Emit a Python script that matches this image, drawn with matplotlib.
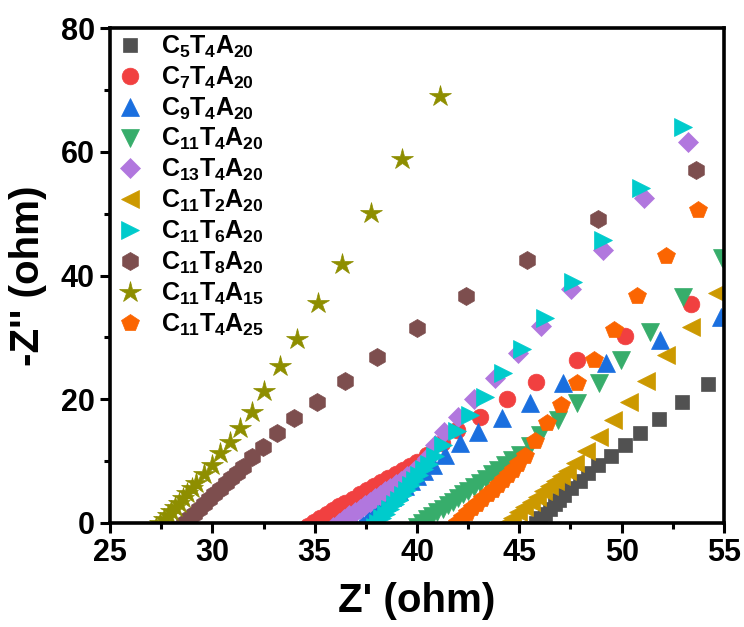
import numpy as np
import matplotlib
matplotlib.use("Agg")
import matplotlib.pyplot as plt
from matplotlib.ticker import MultipleLocator

plt.rcParams['font.family'] = ['Liberation Sans', 'DejaVu Sans']
plt.rcParams['font.weight'] = 'bold'
plt.rcParams['mathtext.fontset'] = 'custom'
plt.rcParams['mathtext.rm'] = 'Liberation Sans:bold'
plt.rcParams['mathtext.it'] = 'Liberation Sans:bold'
plt.rcParams['mathtext.bf'] = 'Liberation Sans:bold'

# Nyquist data read from the picture : Z' (ohm), -Z'' (ohm)
# (first points sit a bit below zero, they are cut by the axis like in the original)
c5t4a20_x = [45.5, 45.8, 46.03, 46.26, 46.49, 46.72, 46.95, 47.18, 47.55, 47.96, 48.37, 48.85, 49.46, 50.16, 50.89, 51.83, 52.93, 54.21]
c5t4a20_y = [-0.9, 0.0, 0.75, 1.5, 2.25, 3.0, 3.75, 4.5, 5.6, 6.85, 8.0, 9.4, 10.8, 12.6, 14.5, 16.8, 19.5, 22.5]

c7t4a20_x = [34.33, 34.65, 34.97, 35.28, 35.6, 35.9, 36.2, 36.5, 36.85, 37.2, 37.55, 37.9, 38.25, 38.6, 38.95, 39.3, 39.65, 40.0,
             40.5, 41.2, 41.94, 43.08, 44.38, 45.81, 47.8, 50.16, 53.41]
c7t4a20_y = [-1.2, -0.55, 0.1, 0.8, 1.45, 2.1, 2.7, 3.25, 3.9, 4.6, 5.25, 5.9, 6.55, 7.25, 7.9, 8.55, 9.2, 9.85,
             11.0, 12.9, 15.0, 17.1, 20.0, 22.8, 26.4, 30.2, 35.4]

c9t4a20_x = [37.0, 37.3, 37.6, 37.9, 38.2, 38.5, 38.8, 39.1, 39.4, 39.7, 40.0, 40.35, 40.78, 41.37, 42.1, 42.96, 44.14, 45.52,
             47.15, 49.23, 51.87, 54.85]
c9t4a20_y = [-0.8, 0.0, 0.85, 1.7, 2.55, 3.4, 4.25, 5.1, 5.95, 6.8, 7.6, 8.4, 9.4, 11.0, 12.9, 14.75, 16.9, 19.4,
             22.6, 25.8, 29.6, 33.3]

c11t4a20_x = [40.0, 40.25, 40.5, 40.75, 41.0, 41.25, 41.5, 41.75, 42.0, 42.25, 42.5, 42.78, 43.06, 43.35, 43.65, 43.97, 44.3,
              44.65, 45.03, 45.5, 46.01, 46.9, 47.83, 48.89, 49.99, 51.38, 53.0, 54.9]
c11t4a20_y = [-0.6, 0.0, 0.57, 1.15, 1.72, 2.3, 2.87, 3.45, 4.0, 4.6, 5.2, 5.85, 6.5, 7.15, 7.85, 8.55, 9.35,
              10.15, 11.0, 12.5, 14.2, 16.6, 19.4, 22.6, 26.3, 30.9, 36.6, 42.8]

c13t4a20_x = [35.9, 36.2, 36.45, 36.7, 36.95, 37.2, 37.45, 37.7, 37.95, 38.2, 38.45, 38.7, 38.95, 39.2, 39.5, 39.85, 40.2,
              40.5, 40.88, 41.3, 42.02, 42.8, 43.81, 44.93, 46.04, 47.51, 49.07, 51.09, 53.25]
c13t4a20_y = [-0.7, 0.0, 0.6, 1.2, 1.75, 2.3, 2.85, 3.4, 3.95, 4.5, 5.1, 5.65, 6.25, 6.85, 7.55, 8.4, 9.35,
              10.5, 12.6, 14.75, 17.15, 20.0, 23.4, 27.4, 31.8, 37.8, 44.2, 52.5, 61.6]

c11t2a20_x = [44.0, 44.35, 44.65, 44.95, 45.25, 45.55, 45.85, 46.15, 46.45, 46.75, 47.05, 47.35, 47.72, 48.25, 48.88, 49.57,
              50.35, 51.21, 52.16, 53.37, 54.64]
c11t2a20_y = [-1.0, 0.0, 0.85, 1.7, 2.55, 3.4, 4.25, 5.1, 5.95, 6.8, 7.6, 8.45, 9.7, 11.6, 13.9, 16.6,
              19.5, 23.0, 27.1, 31.7, 37.1]

c11t6a20_x = [37.95, 38.1, 38.3, 38.5, 38.7, 38.9, 39.1, 39.3, 39.5, 39.7, 39.9, 40.12, 40.35, 40.6, 40.9, 41.28, 41.94,
              42.59, 43.32, 44.18, 45.11, 46.25, 47.63, 49.1, 50.97, 53.0]
c11t6a20_y = [-0.6, 0.0, 0.75, 1.5, 2.25, 3.0, 3.75, 4.5, 5.3, 6.1, 6.9, 7.75, 8.65, 9.6, 10.9, 12.6, 14.9,
              17.5, 20.4, 24.2, 28.2, 33.2, 39.0, 45.8, 54.2, 64.0]

c11t8a20_x = [28.35, 28.6, 28.85, 29.1, 29.35, 29.6, 29.85, 30.1, 30.37, 30.65, 30.93, 31.21, 31.51, 31.92, 32.49, 33.14,
              34.01, 35.1, 36.48, 38.03, 40.0, 42.38, 45.39, 48.84, 53.63]
c11t8a20_y = [-0.8, 0.0, 0.75, 1.5, 2.3, 3.05, 3.85, 4.65, 5.5, 6.4, 7.25, 8.1, 9.05, 10.7, 12.3, 14.6,
              16.9, 19.6, 23.0, 26.8, 31.5, 36.7, 42.5, 49.1, 57.1]

c11t4a15_x = [27.25, 27.45, 27.63, 27.81, 27.99, 28.17, 28.36, 28.56, 28.77, 28.98, 29.2, 29.59, 29.97, 30.37, 30.86, 31.35,
              31.92, 32.52, 33.3, 34.12, 35.16, 36.32, 37.75, 39.25, 41.12]
c11t4a15_y = [-0.7, 0.0, 0.65, 1.3, 1.95, 2.6, 3.3, 4.05, 4.85, 5.65, 6.45, 7.9, 9.4, 11.3, 13.1, 15.3,
              18.0, 21.3, 25.4, 29.7, 35.5, 41.8, 50.1, 58.8, 69.1]

c11t4a25_x = [41.64, 41.95, 42.2, 42.45, 42.7, 42.95, 43.2, 43.45, 43.7, 43.95, 44.2, 44.45, 44.7, 44.95, 45.3, 45.76,
              46.33, 47.03, 47.8, 48.64, 49.62, 50.76, 52.19, 53.74]
c11t4a25_y = [-1.07, 0.0, 0.8, 1.6, 2.35, 3.1, 3.85, 4.6, 5.35, 6.1, 6.9, 7.7, 8.55, 9.5, 10.9, 13.3,
              16.1, 19.1, 22.6, 26.4, 31.2, 36.7, 43.1, 50.6]

series = [
    (c5t4a20_x, c5t4a20_y, r'$C_5T_4A_{20}$', 's', 10.5, '#515151'),
    (c7t4a20_x, c7t4a20_y, r'$C_7T_4A_{20}$', 'o', 12, '#F14040'),
    (c9t4a20_x, c9t4a20_y, r'$C_9T_4A_{20}$', '^', 13, '#1A6FDF'),
    (c11t4a20_x, c11t4a20_y, r'$C_{11}T_4A_{20}$', 'v', 13, '#37AD6B'),
    (c13t4a20_x, c13t4a20_y, r'$C_{13}T_4A_{20}$', 'D', 10, '#B177DE'),
    (c11t2a20_x, c11t2a20_y, r'$C_{11}T_2A_{20}$', '<', 13, '#CC9900'),
    (c11t6a20_x, c11t6a20_y, r'$C_{11}T_6A_{20}$', '>', 13, '#00CBCC'),
    (c11t8a20_x, c11t8a20_y, r'$C_{11}T_8A_{20}$', 'h', 13, '#7D4E4E'),
    (c11t4a15_x, c11t4a15_y, r'$C_{11}T_4A_{15}$', '*', 16, '#8E8E00'),
    (c11t4a25_x, c11t4a25_y, r'$C_{11}T_4A_{25}$', 'p', 13, '#FB6501'),
]

fig = plt.figure(figsize=(7.44, 6.27), dpi=100)
ax = fig.add_axes([0.148, 0.166, 0.825, 0.789])

for x, y, lab, m, ms, c in series:
    ax.plot(x, y, linestyle='none', marker=m, markersize=ms, color=c,
            markeredgecolor=c, markeredgewidth=0.5, label=lab)

ax.set_xlim(25, 55)
ax.set_ylim(0, 80)
ax.xaxis.set_major_locator(MultipleLocator(5))
ax.xaxis.set_minor_locator(MultipleLocator(2.5))
ax.yaxis.set_major_locator(MultipleLocator(20))
ax.yaxis.set_minor_locator(MultipleLocator(10))
ax.tick_params(which='major', direction='out', length=7, width=2.2, labelsize=22, pad=4)
ax.tick_params(which='minor', direction='out', length=4, width=2.2)
for s in ax.spines.values():
    s.set_linewidth(2.6)
for lb in ax.get_xticklabels() + ax.get_yticklabels():
    lb.set_fontweight('bold')

ax.set_xlabel("Z' (ohm)", fontsize=29, fontweight='bold', labelpad=10)
ax.set_ylabel("-Z'' (ohm)", fontsize=29, fontweight='bold', labelpad=10)

ax.legend(loc='upper left', bbox_to_anchor=(-0.028, 1.035), frameon=False, fontsize=18,
          labelspacing=0.19, handletextpad=0.62, handlelength=1.2, numpoints=1)

fig.savefig('out.png', dpi=100)
